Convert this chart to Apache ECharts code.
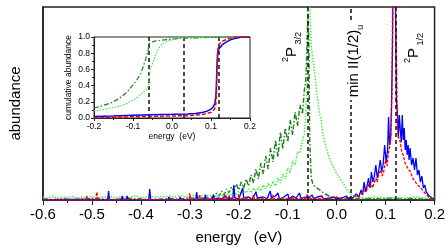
<!DOCTYPE html>
<html>
<head>
<meta charset="utf-8">
<script src="https://cdn.jsdelivr.net/npm/echarts@6/dist/echarts.min.js"></script>
<style>
  html, body { margin: 0; padding: 0; background: #fff; }
  #chart { width: 448px; height: 252px; }
</style>
</head>
<body>
<div id="chart"></div>
<script>
// energy positions of the marked levels (eV): 2P3/2, min II(1/2)u, 2P1/2
const levels = [-0.058, 0.029, 0.117]
const mainTicks = [-0.6, -0.5, -0.4, -0.3, -0.2, -0.1, 0.0, 0.1, 0.2]
const insetTicks = [-0.2, -0.1, 0.0, 0.1, 0.2]

// abundance histograms [energy, counts] (arbitrary units)
const darkGreen = [[-0.6,1],[-0.58,0.5],[-0.56,1],[-0.54,0.5],[-0.52,1],[-0.5,1.5],[-0.48,1],[-0.46,0.5],[-0.44,1],[-0.42,1.5],[-0.4,1],[-0.38,0.5],[-0.36,1],[-0.34,1.5],[-0.32,1],[-0.3,2],[-0.28,1.5],[-0.26,2.5],
  [-0.25,3],[-0.245,7],[-0.24,4],[-0.235,9],[-0.23,5],[-0.225,11],[-0.22,7],[-0.215,13],[-0.21,9],[-0.205,16],[-0.2,10],[-0.195,18],[-0.19,12],[-0.185,21],[-0.18,14],[-0.175,25],[-0.17,17],[-0.165,31],[-0.16,21],[-0.155,37],[-0.15,26],[-0.145,44],[-0.14,31],[-0.135,52],[-0.13,38],[-0.125,60],[-0.12,43],[-0.115,68],[-0.11,51],[-0.105,72],[-0.1,58],[-0.095,80],[-0.09,65],[-0.085,88],[-0.08,74],[-0.075,95],[-0.07,86],[-0.066,110],[-0.063,120],[-0.061,150],[-0.059,185],[-0.057,160],[-0.055,60],[-0.052,22],[-0.048,15],[-0.044,13],[-0.04,12],[-0.036,10],[-0.032,9],[-0.028,7],[-0.024,6],[-0.02,5],[-0.015,4],[-0.01,3],[-0.005,2],[0.0,2],
  [0.01,1],[0.03,1.5],[0.05,1],[0.07,1.5],[0.09,1],[0.11,2],[0.13,1],[0.15,1.5],[0.17,1],[0.2,1]]

const lightGreen = [[-0.6,3],[-0.59,2],[-0.58,3.5],[-0.57,2],[-0.56,3],[-0.55,2.5],[-0.54,3.5],[-0.53,2],[-0.52,3],[-0.51,2.5],[-0.5,3.5],[-0.49,2],[-0.48,3],[-0.47,2.5],[-0.46,3],[-0.45,2],[-0.44,3.5],[-0.43,2.5],[-0.42,3],[-0.41,4],[-0.4,2.5],[-0.39,3],[-0.38,4],[-0.37,2.5],[-0.36,3.5],[-0.35,3],[-0.34,4],[-0.33,3],[-0.32,4.5],[-0.31,3],[-0.3,4],[-0.29,5],[-0.28,3.5],[-0.27,5],[-0.26,4],
  [-0.25,5],[-0.245,3],[-0.24,6],[-0.235,4],[-0.23,7],[-0.225,4],[-0.22,8],[-0.215,5],[-0.21,8],[-0.205,5],[-0.2,9],[-0.195,6],[-0.19,10],[-0.185,7],[-0.18,11],[-0.175,7],[-0.17,12],[-0.165,8],[-0.16,13],[-0.155,9],[-0.15,15],[-0.145,11],[-0.14,17],[-0.135,12],[-0.13,19],[-0.125,14],[-0.12,22],[-0.115,17],[-0.11,26],[-0.105,21],[-0.1,32],[-0.095,27],[-0.09,39],[-0.085,35],[-0.08,48],[-0.075,47],[-0.07,60],[-0.066,66],[-0.063,85],[-0.061,115],[-0.059,190],[-0.058,270],[-0.056,250],[-0.054,175],[-0.052,155],[-0.05,145],[-0.047,135],[-0.044,122],[-0.041,108],[-0.038,98],[-0.035,86],[-0.032,82],[-0.029,68],[-0.026,66],[-0.023,55],[-0.02,54],[-0.017,45],[-0.014,44],[-0.011,37],[-0.008,36],[-0.005,31],[-0.002,31],[0.001,26],[0.004,26],[0.007,21],[0.01,21],[0.013,17],[0.016,17],[0.019,12],[0.022,12],[0.025,8],[0.028,8],[0.031,5],[0.035,5],[0.04,3],[0.045,3],[0.05,2.5],
  [0.06,2],[0.08,3],[0.1,2],[0.12,2.5],[0.14,2],[0.16,3],[0.18,2],[0.2,2]]

const blue = [[-0.6,0],[-0.55,0.5],[-0.5,0.5],[-0.468,0],[-0.466,9],[-0.464,0],[-0.44,0],[-0.438,4],[-0.436,0],[-0.43,0],[-0.428,4],[-0.426,0],[-0.384,0],[-0.382,11],[-0.38,0],[-0.345,0],[-0.343,3],[-0.341,0],[-0.322,0],[-0.32,3],[-0.318,0],[-0.288,0],[-0.286,8],[-0.284,0],[-0.27,1],[-0.268,5],[-0.266,1],[-0.255,0],[-0.252,5],[-0.25,1],[-0.24,2],[-0.235,1],[-0.228,4],[-0.222,1],[-0.212,2],[-0.21,15],[-0.208,2],[-0.2,1],[-0.192,12],[-0.19,2],[-0.18,3],[-0.172,1],[-0.165,8],[-0.162,2],[-0.15,3],[-0.142,1],[-0.136,9],[-0.133,2],[-0.125,4],[-0.12,7],[-0.117,1],[-0.108,3],[-0.1,6],[-0.097,1],[-0.09,4],[-0.083,2],[-0.076,7],[-0.073,1],[-0.065,3],[-0.058,2],[-0.05,5],[-0.047,1],[-0.04,3],[-0.03,4],[-0.027,1],[-0.015,2],[-0.005,3],[0.0,1],[0.01,2],[0.02,4],[0.025,1],[0.035,3],
  [0.04,6],[0.045,3],[0.05,10],[0.053,5],[0.056,18],[0.059,8],[0.062,14],[0.065,22],[0.068,12],[0.071,28],[0.074,18],[0.077,24],[0.08,35],[0.083,22],[0.086,30],[0.089,40],[0.092,28],[0.095,36],[0.098,55],[0.101,38],[0.104,50],[0.106,83],[0.108,55],[0.11,60],[0.112,95],[0.114,150],[0.116,260],[0.118,260],[0.12,200],[0.122,100],[0.124,88],[0.126,62],[0.128,85],[0.13,70],[0.132,58],[0.134,85],[0.136,60],[0.138,72],[0.14,50],[0.142,60],[0.144,45],[0.146,55],[0.148,40],[0.15,52],[0.153,35],[0.156,42],[0.159,30],[0.162,42],[0.165,25],[0.168,30],[0.171,18],[0.174,24],[0.177,12],[0.18,15],[0.183,8],[0.186,10],[0.189,4],[0.192,6],[0.195,2],[0.2,1]]

const red = [[-0.6,0],[-0.512,0],[-0.51,4],[-0.508,0],[-0.492,0],[-0.49,8],[-0.488,0],[-0.45,0],[-0.4,0.5],[-0.302,0],[-0.3,7],[-0.298,0],[-0.282,0],[-0.28,5],[-0.278,0],[-0.26,1],[-0.232,1],[-0.23,6],[-0.228,1],[-0.222,1],[-0.22,5],[-0.218,1],[-0.202,1],[-0.2,6],[-0.198,1],[-0.185,2],[-0.172,1],[-0.17,5],[-0.168,1],[-0.15,2],[-0.132,1],[-0.13,5],[-0.128,1],[-0.11,2],[-0.092,1],[-0.09,4],[-0.088,1],[-0.07,2],[-0.062,1],[-0.06,6],[-0.058,1],[-0.045,2],[-0.032,1],[-0.03,4],[-0.028,1],[-0.01,2],[0.0,3],[0.01,1],[0.02,2],[0.03,3],
  [0.04,4],[0.045,3],[0.05,6],[0.055,10],[0.06,8],[0.065,15],[0.07,18],[0.073,12],[0.076,16],[0.08,22],[0.083,18],[0.086,26],[0.09,30],[0.093,24],[0.096,28],[0.1,40],[0.103,34],[0.106,48],[0.109,55],[0.111,65],[0.113,110],[0.115,260],[0.118,260],[0.12,200],[0.122,150],[0.124,70],[0.127,62],[0.13,58],[0.133,48],[0.136,45],[0.139,38],[0.142,40],[0.145,32],[0.148,30],[0.151,28],[0.155,22],[0.158,24],[0.161,18],[0.165,15],[0.168,16],[0.172,12],[0.176,10],[0.18,7],[0.184,5],[0.188,3],[0.192,2],[0.2,0]]

// cumulative abundance (inset)
const cumDarkGreen = [[-0.2,0.12],[-0.18,0.15],[-0.16,0.18],[-0.15,0.2],[-0.14,0.23],[-0.13,0.26],[-0.12,0.3],[-0.11,0.35],[-0.1,0.41],[-0.09,0.47],[-0.08,0.55],[-0.074,0.63],[-0.068,0.72],[-0.062,0.82],[-0.058,0.92],[-0.054,0.94],[-0.045,0.95],[-0.03,0.96],[-0.01,0.97],[0.0,0.975],[0.03,0.985],[0.06,0.99],[0.1,0.995],[0.14,1.0],[0.2,1.0]]
const cumLightGreen = [[-0.2,0.09],[-0.18,0.1],[-0.16,0.12],[-0.14,0.14],[-0.12,0.17],[-0.1,0.22],[-0.09,0.25],[-0.08,0.29],[-0.07,0.33],[-0.064,0.36],[-0.06,0.4],[-0.058,0.52],[-0.056,0.6],[-0.052,0.65],[-0.048,0.7],[-0.04,0.8],[-0.035,0.85],[-0.03,0.89],[-0.02,0.93],[-0.01,0.95],[0.0,0.965],[0.01,0.975],[0.02,0.985],[0.04,0.99],[0.08,0.995],[0.12,1.0],[0.2,1.0]]
const cumBlue = [[-0.2,0.02],[-0.15,0.025],[-0.1,0.035],[-0.05,0.04],[0.0,0.045],[0.04,0.05],[0.06,0.055],[0.08,0.07],[0.09,0.085],[0.1,0.11],[0.106,0.14],[0.11,0.18],[0.113,0.3],[0.115,0.6],[0.117,0.8],[0.12,0.85],[0.125,0.88],[0.13,0.91],[0.14,0.94],[0.15,0.965],[0.16,0.98],[0.17,0.99],[0.18,1.0],[0.2,1.0]]
const cumRed = [[-0.2,0.0],[-0.15,0.01],[-0.1,0.015],[-0.05,0.02],[0.0,0.025],[0.05,0.03],[0.08,0.045],[0.1,0.07],[0.108,0.1],[0.112,0.15],[0.114,0.3],[0.116,0.7],[0.118,0.88],[0.12,0.91],[0.125,0.93],[0.13,0.95],[0.14,0.97],[0.15,0.985],[0.16,1.0],[0.2,1.0]]

const FONT = "'Liberation Sans', Arial, sans-serif"
const DKGREEN = '#1a7f1a'
const LTGREEN = '#3de83d'

let myChart = echarts.init(document.getElementById('chart'))

let dashed = { color: '#111', width: 1.5, type: [4, 3] }
let levelLines = function (withGap) {
  let data = []
  levels.forEach((v, i) => {
    if (withGap && i === 1) {
      // label "min II(1/2)u" interrupts this line
      data.push([{ coord: [v, 0] }, { coord: [v, 100] }])
      data.push([{ coord: [v, 180] }, { coord: [v, 193] }])
    } else {
      data.push({ xAxis: v })
    }
  })
  return data
}

let richLabel = {
  b: { fontSize: 15, fontFamily: FONT, color: '#000', lineHeight: 22 },
  sup: { fontSize: 9, fontFamily: FONT, color: '#000', lineHeight: 22, verticalAlign: 'top' },
  sub: { fontSize: 9, fontFamily: FONT, color: '#000', lineHeight: 22, verticalAlign: 'bottom' }
}

myChart.setOption({
  animation: false,
  grid: [
    { left: 38, top: 7, width: 399, height: 193, show: true, borderColor: '#222', borderWidth: 1.5 },
    { left: 94, top: 37, width: 156, height: 81, show: true, backgroundColor: '#fff', borderColor: '#222', borderWidth: 1, z: 5 }
  ],
  xAxis: [
    {
      type: 'value', gridIndex: 0, min: mainTicks[0], max: mainTicks[mainTicks.length - 1], interval: 0.1,
      name: 'energy   (eV)', nameLocation: 'middle', nameGap: 30,
      nameTextStyle: { fontSize: 15, fontFamily: FONT, color: '#000' },
      axisLine: { onZero: false, lineStyle: { color: '#222', width: 1.5 } },
      axisTick: { inside: false, length: 5, lineStyle: { color: '#222' } },
      minorTick: { show: true, splitNumber: 2, length: 3, lineStyle: { color: '#222' } },
      splitLine: { show: false },
      axisLabel: { fontSize: 15, fontFamily: FONT, color: '#000', margin: 7, formatter: v => v.toFixed(1) }
    },
    {
      type: 'value', gridIndex: 1, min: insetTicks[0], max: insetTicks[insetTicks.length - 1], interval: 0.1,
      name: 'energy  (eV)', nameLocation: 'middle', nameGap: 12,
      nameTextStyle: { fontSize: 8.5, fontFamily: FONT, color: '#000' },
      axisLine: { onZero: false, lineStyle: { color: '#222', width: 1 } },
      axisTick: { length: 3, lineStyle: { color: '#222' } },
      minorTick: { show: true, splitNumber: 2, length: 2, lineStyle: { color: '#222' } },
      splitLine: { show: false },
      axisLabel: { fontSize: 8.5, fontFamily: FONT, color: '#000', margin: 4, formatter: v => v.toFixed(1) },
      z: 6
    }
  ],
  yAxis: [
    {
      type: 'value', gridIndex: 0, min: 0, max: 193,
      name: 'abundance', nameLocation: 'middle', nameGap: 20,
      nameTextStyle: { fontSize: 15, fontFamily: FONT, color: '#000' },
      axisLine: { show: true, onZero: false, lineStyle: { color: '#222', width: 1.5 } },
      axisTick: { show: false },
      axisLabel: { show: false },
      splitLine: { show: false }
    },
    {
      type: 'value', gridIndex: 1, min: 0, max: 1, interval: 0.2,
      name: 'cumulative abundance', nameLocation: 'middle', nameGap: 21,
      nameTextStyle: { fontSize: 8.5, fontFamily: FONT, color: '#000' },
      axisLine: { show: true, onZero: false, lineStyle: { color: '#222', width: 1 } },
      axisTick: { length: 3, lineStyle: { color: '#222' } },
      minorTick: { show: true, splitNumber: 2, length: 2, lineStyle: { color: '#222' } },
      splitLine: { show: false },
      axisLabel: { fontSize: 8.5, fontFamily: FONT, color: '#000', margin: 4, formatter: v => v.toFixed(1) },
      z: 6
    }
  ],
  series: [
    { type: 'line', xAxisIndex: 0, yAxisIndex: 0, data: darkGreen, showSymbol: false, clip: true,
      lineStyle: { color: DKGREEN, width: 1.4, type: [5, 2, 1.5, 2] } },
    { type: 'line', xAxisIndex: 0, yAxisIndex: 0, data: lightGreen, showSymbol: false, clip: true,
      lineStyle: { color: LTGREEN, width: 1.4, type: [1.5, 1.5] } },
    { type: 'line', xAxisIndex: 0, yAxisIndex: 0, data: blue, showSymbol: false, clip: true,
      lineStyle: { color: '#0000ff', width: 1.3 } },
    { type: 'line', xAxisIndex: 0, yAxisIndex: 0, data: red, showSymbol: false, clip: true,
      lineStyle: { color: '#ff0000', width: 1.3, type: [3, 1.5] } },
    { type: 'line', xAxisIndex: 0, yAxisIndex: 0, data: [],
      markLine: { silent: true, symbol: 'none', label: { show: false }, lineStyle: dashed, data: levelLines(true) } },

    { type: 'line', xAxisIndex: 1, yAxisIndex: 1, data: [], z: 6,
      markLine: { silent: true, symbol: 'none', label: { show: false }, lineStyle: { color: '#111', width: 1.5, type: [4, 3] }, data: levelLines(false) } },
    { type: 'line', xAxisIndex: 1, yAxisIndex: 1, data: cumDarkGreen, showSymbol: false, z: 7,
      lineStyle: { color: DKGREEN, width: 1.2, type: [5, 2, 1.5, 2] } },
    { type: 'line', xAxisIndex: 1, yAxisIndex: 1, data: cumLightGreen, showSymbol: false, z: 7,
      lineStyle: { color: LTGREEN, width: 1.2, type: [1.5, 1.5] } },
    { type: 'line', xAxisIndex: 1, yAxisIndex: 1, data: cumBlue, showSymbol: false, z: 7,
      lineStyle: { color: '#0000ff', width: 1.5 } },
    { type: 'line', xAxisIndex: 1, yAxisIndex: 1, data: cumRed, showSymbol: false, z: 8,
      lineStyle: { color: '#ff0000', width: 1.5, type: [4, 2] } }
  ],
  graphic: [
    { type: 'text', x: 292, y: 47, rotation: Math.PI / 2,
      style: { text: '{sup|2}{b|P}{sub| 3/2}', align: 'center', verticalAlign: 'middle', rich: richLabel } },
    { type: 'text', x: 354, y: 61, rotation: Math.PI / 2,
      style: { text: '{b|min II(1/2)}{sub|u}', align: 'center', verticalAlign: 'middle', rich: richLabel } },
    { type: 'text', x: 414, y: 48, rotation: Math.PI / 2,
      style: { text: '{sup|2}{b|P}{sub| 1/2}', align: 'center', verticalAlign: 'middle', rich: richLabel } }
  ]
})
</script>
</body>
</html>
